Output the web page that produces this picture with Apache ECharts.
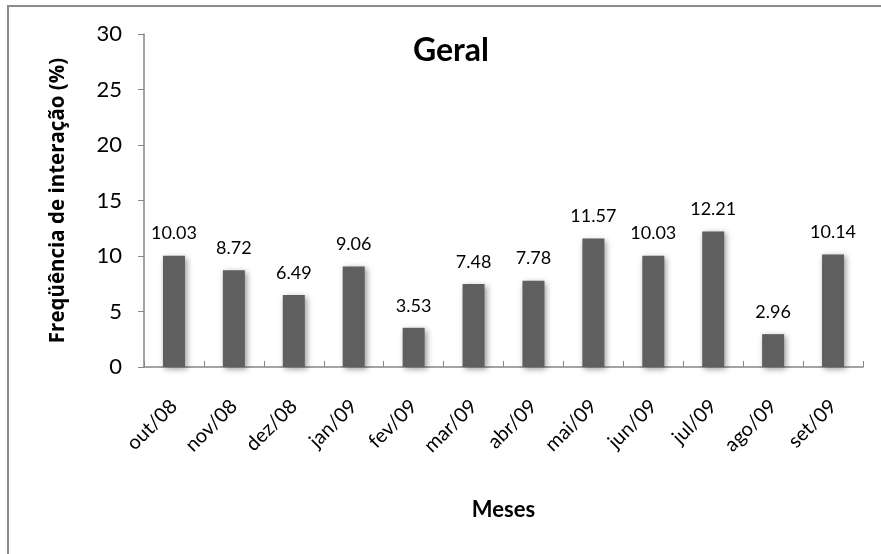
<!DOCTYPE html>
<html>
<head>
<meta charset="utf-8">
<script src="https://cdn.jsdelivr.net/npm/echarts@6/dist/echarts.min.js"></script>
<style>
  html, body { margin: 0; padding: 0; background: #fff; }
  #chart { width: 881px; height: 554px; }
</style>
</head>
<body>
<div id="chart"></div>
<script>
// Monthly interaction frequency (%), Oct 2008 – Sep 2009
const months = ['out/08', 'nov/08', 'dez/08', 'jan/09', 'fev/09', 'mar/09',
                'abr/09', 'mai/09', 'jun/09', 'jul/09', 'ago/09', 'set/09'];
const frequency = [10.03, 8.72, 6.49, 9.06, 3.53, 7.48, 7.78, 11.57, 10.03, 12.21, 2.96, 10.14];
const yTicks = [0, 5, 10, 15, 20, 25, 30];

const FONT = 'Lato, "Open Sans", sans-serif';
const NAME_FONT = '"Open Sans", Lato, sans-serif';
const AXIS_GRAY = '#868686';

const chart = echarts.init(document.getElementById('chart'), null, { renderer: 'canvas' });

chart.setOption({
  backgroundColor: '#ffffff',
  animation: false,
  title: {
    text: 'Geral',
    left: 446,
    top: 30,
    textAlign: 'center',
    textStyle: { fontFamily: FONT, fontWeight: 'bold', fontSize: 32, color: '#000' }
  },
  graphic: [{
    type: 'rect',
    shape: { x: 8, y: 6, width: 920, height: 620 },
    style: { fill: 'none', stroke: '#8c8c8c', lineWidth: 2 },
    silent: true
  }],
  grid: { left: 144, right: 18, top: 34, bottom: 187 },
  xAxis: {
    type: 'category',
    data: months,
    name: 'Meses',
    nameLocation: 'middle',
    nameGap: 132,
    nameTextStyle: { fontFamily: FONT, fontWeight: 'bold', fontSize: 22, color: '#000' },
    axisLine: { lineStyle: { color: AXIS_GRAY, width: 1.5 } },
    axisTick: { show: true, inside: true, length: 6, alignWithLabel: false, lineStyle: { color: AXIS_GRAY } },
    axisLabel: {
      rotate: 45,
      margin: 36,
      interval: 0,
      fontFamily: FONT,
      fontSize: 20,
      color: '#000'
    }
  },
  yAxis: {
    type: 'value',
    min: yTicks[0],
    max: yTicks[yTicks.length - 1],
    interval: 5,
    name: 'Freqüência de interação (%)',
    nameLocation: 'middle',
    nameRotate: 90,
    nameGap: 75,
    nameTextStyle: { fontFamily: NAME_FONT, fontWeight: 'bold', fontSize: 20.5, color: '#000' },
    axisLine: { show: true, lineStyle: { color: AXIS_GRAY, width: 1.5 } },
    axisTick: { show: true, inside: false, length: 6, lineStyle: { color: AXIS_GRAY } },
    splitLine: { show: false },
    axisLabel: {
      margin: 22,
      fontFamily: FONT,
      fontSize: 22,
      color: '#000'
    }
  },
  series: [{
    type: 'bar',
    data: frequency,
    barWidth: 22,
    itemStyle: {
      color: '#5f5f5f',
      shadowBlur: 6,
      shadowOffsetX: 2,
      shadowOffsetY: 2,
      shadowColor: 'rgba(0,0,0,0.4)'
    },
    label: {
      show: true,
      position: 'top',
      distance: 13,
      fontFamily: FONT,
      fontSize: 18,
      color: '#000',
      formatter: p => p.value.toFixed(2)
    }
  }]
});
</script>
</body>
</html>
